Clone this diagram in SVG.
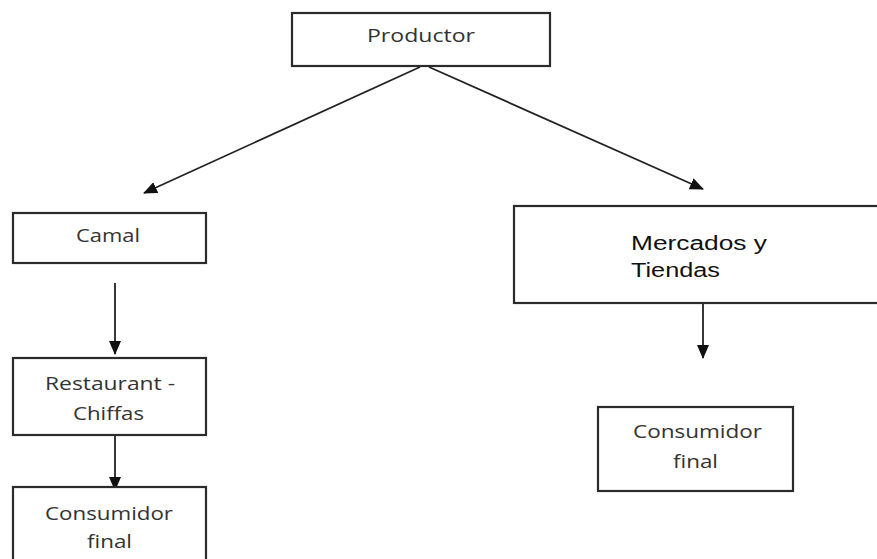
<svg xmlns="http://www.w3.org/2000/svg" width="877" height="559" viewBox="0 0 877 559">
<style>
.box{fill:#fff;stroke:#2b2b2b;stroke-width:2.2}
.t{font-family:"Open Sans","Noto Sans",sans-serif;font-size:18px;fill:#333}
.a{font-family:"Liberation Sans",Arial,sans-serif;font-size:20px;fill:#111}
.c{stroke:#222;stroke-width:1.8;fill:none;marker-end:url(#ah)}
</style>
<defs>
<marker id="ah" viewBox="0 0 14 12" refX="13" refY="6" markerWidth="14" markerHeight="12" markerUnits="userSpaceOnUse" orient="auto">
<path d="M0,0 L14,6 L0,12 Z" fill="#111"/>
</marker>
</defs>
<rect width="877" height="559" fill="#fff"/>
<g id="connectors">
<line class="c" x1="420" y1="67" x2="144" y2="193"/>
<line class="c" x1="429" y1="67" x2="703" y2="189"/>
<line class="c" x1="115" y1="283" x2="115" y2="354"/>
<line class="c" x1="115" y1="435" x2="115" y2="490"/>
<line class="c" x1="703" y1="298" x2="703" y2="358"/>
</g>
<g id="productor">
<rect class="box" x="292" y="13" width="258" height="53"/>
<text class="t" x="367" y="42" textLength="108" lengthAdjust="spacingAndGlyphs">Productor</text>
</g>
<g id="camal">
<rect class="box" x="13" y="213" width="193" height="50"/>
<text class="t" x="76" y="242" textLength="64" lengthAdjust="spacingAndGlyphs">Camal</text>
</g>
<g id="restaurant">
<rect class="box" x="13" y="358" width="193" height="77"/>
<text class="t" x="45" y="390" textLength="130" lengthAdjust="spacingAndGlyphs">Restaurant -</text>
<text class="t" x="73" y="420" textLength="71" lengthAdjust="spacingAndGlyphs">Chiffas</text>
</g>
<g id="consumidor-left">
<rect class="box" x="13" y="487" width="193" height="90"/>
<text class="t" x="45" y="520" textLength="128" lengthAdjust="spacingAndGlyphs">Consumidor</text>
<text class="t" x="87" y="548" textLength="45" lengthAdjust="spacingAndGlyphs">final</text>
</g>
<g id="mercados">
<rect class="box" x="514" y="206" width="380" height="97"/>
<text class="a" x="631" y="250" textLength="136" lengthAdjust="spacingAndGlyphs">Mercados y</text>
<text class="a" x="631" y="277" textLength="89" lengthAdjust="spacingAndGlyphs">Tiendas</text>
</g>
<g id="consumidor-right">
<rect class="box" x="598" y="407" width="195" height="84"/>
<text class="t" x="633" y="438" textLength="129" lengthAdjust="spacingAndGlyphs">Consumidor</text>
<text class="t" x="673" y="468" textLength="45" lengthAdjust="spacingAndGlyphs">final</text>
</g>
</svg>
